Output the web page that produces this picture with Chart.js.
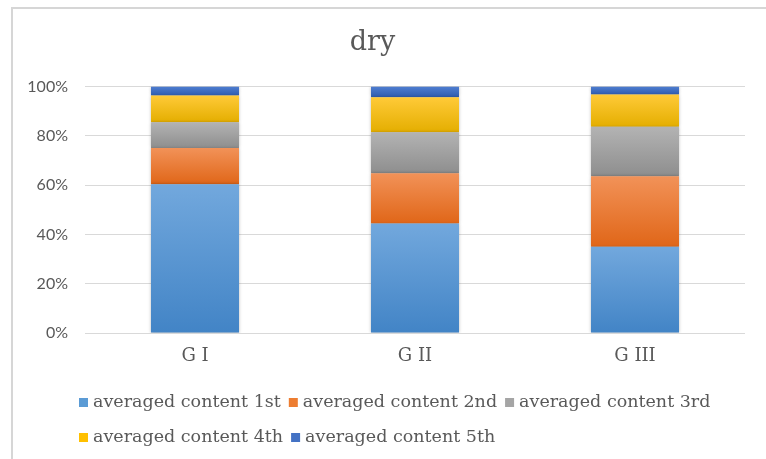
<!DOCTYPE html>
<html>
<head>
<meta charset="utf-8">
<script src="https://cdn.jsdelivr.net/npm/chart.js@4"></script>
<style>
  html, body { margin: 0; padding: 0; background: #fff; }
  #wrap { width: 766px; height: 459px; position: relative; }
</style>
</head>
<body>
<div id="wrap"><canvas id="c" width="766" height="459"></canvas></div>
<script>
// Categories and series (percent share of each group)
const categories = ['G I', 'G II', 'G III'];
const seriesNames = [
  'averaged content 1st',
  'averaged content 2nd',
  'averaged content 3rd',
  'averaged content 4th',
  'averaged content 5th'
];
const content1st = [60.3, 44.4, 35.0];
const content2nd = [14.7, 20.4, 28.6];
const content3rd = [10.5, 16.6, 20.0];
const content4th = [10.8, 14.2, 13.1];
const content5th = [3.7, 4.4, 3.3];
const yTicks = [0, 20, 40, 60, 80, 100];

const seriesValues = [content1st, content2nd, content3rd, content4th, content5th];
// top / bottom gradient stops and legend swatch colour per series
const palette = [
  { top: '#72a8dd', bottom: '#4284c6', solid: '#5b9bd5' },
  { top: '#f29258', bottom: '#e06618', solid: '#ed7d31' },
  { top: '#b3b3b3', bottom: '#8e8e8e', solid: '#a5a5a5' },
  { top: '#ffca38', bottom: '#e4ae00', solid: '#ffc000' },
  { top: '#4f7ed2', bottom: '#2e5cae', solid: '#4472c4' }
];

const serif = '"DejaVu Serif", serif';
const textColor = '#595959';

function segmentGradient(ctx) {
  const chart = ctx.chart;
  const y = chart.scales.y;
  const di = ctx.datasetIndex;
  const pal = palette[di];
  if (!y || ctx.dataIndex === undefined || !chart.chartArea) return pal.solid;
  let base = 0;
  for (let k = 0; k < di; k++) base += seriesValues[k][ctx.dataIndex];
  const topVal = base + seriesValues[di][ctx.dataIndex];
  const y0 = y.getPixelForValue(topVal);
  const y1 = y.getPixelForValue(base);
  if (!isFinite(y0) || !isFinite(y1) || y0 === y1) return pal.solid;
  const g = chart.ctx.createLinearGradient(0, y0, 0, y1);
  g.addColorStop(0, pal.top);
  g.addColorStop(1, pal.bottom);
  return g;
}

const datasets = seriesNames.map((name, i) => ({
  label: name,
  data: seriesValues[i],
  backgroundColor: segmentGradient,
  borderWidth: 0,
  categoryPercentage: 1.0,
  barPercentage: 0.4,
  legendColor: palette[i].solid
}));

// Frame lines along the top and left edge of the chart panel
const framePlugin = {
  id: 'frame',
  beforeDraw(chart) {
    const c = chart.ctx;
    c.save();
    c.fillStyle = '#ffffff';
    c.fillRect(0, 0, chart.width, chart.height);
    c.strokeStyle = '#d6d6d6';
    c.lineWidth = 2;
    c.beginPath();
    c.moveTo(12, chart.height);
    c.lineTo(12, 8);
    c.lineTo(chart.width, 8);
    c.stroke();
    c.restore();
  }
};

// Soft shadow around the bars
const shadowPlugin = {
  id: 'barShadow',
  beforeDatasetsDraw(chart) {
    const c = chart.ctx;
    c.save();
    c.shadowColor = 'rgba(0,0,0,0.28)';
    c.shadowBlur = 3;
    c.shadowOffsetX = 0;
    c.shadowOffsetY = 0;
  },
  afterDatasetsDraw(chart) {
    chart.ctx.restore();
  }
};

// Legend laid out in left-aligned rows below the axis
const legendPlugin = {
  id: 'rowLegend',
  afterDraw(chart) {
    const c = chart.ctx;
    c.save();
    c.font = '17.5px ' + serif;
    c.textBaseline = 'middle';
    c.textAlign = 'left';
    const left = 79, maxRight = 745, box = 9, gap = 5, itemGap = 8;
    const rowY = [402, 437];
    let x = left, row = 0;
    chart.data.datasets.forEach(ds => {
      const w = box + gap + c.measureText(ds.label).width;
      if (x + w > maxRight && x > left) { row++; x = left; }
      const y = rowY[row] !== undefined ? rowY[row] : rowY[0] + row * 35;
      c.fillStyle = ds.legendColor;
      c.fillRect(x, Math.round(y - box / 2), box, box);
      c.fillStyle = textColor;
      c.fillText(ds.label, x + box + gap, y);
      x += w + itemGap;
    });
    c.restore();
  }
};

new Chart(document.getElementById('c'), {
  type: 'bar',
  data: { labels: categories, datasets: datasets },
  plugins: [framePlugin, shadowPlugin, legendPlugin],
  options: {
    responsive: false,
    animation: false,
    devicePixelRatio: 1,
    layout: { padding: { left: 0, right: 21, top: 0, bottom: 0 } },
    plugins: {
      legend: { display: false },
      tooltip: { enabled: false },
      title: {
        display: true,
        text: 'dry',
        color: textColor,
        font: { family: serif, size: 27, weight: 'normal' },
        padding: { top: 27, bottom: 27 }
      }
    },
    scales: {
      x: {
        stacked: true,
        grid: { display: false, drawTicks: false },
        border: { display: false },
        ticks: {
          color: textColor,
          font: { family: serif, size: 18 },
          padding: 13
        },
        afterFit(scale) { scale.height = 126; }
      },
      y: {
        stacked: true,
        min: 0,
        max: 100,
        afterBuildTicks(scale) { scale.ticks = yTicks.map(v => ({ value: v })); },
        grid: { color: '#d9d9d9', lineWidth: 1, drawTicks: false },
        border: { display: false },
        ticks: {
          color: textColor,
          font: { family: 'Lato, sans-serif', size: 16 },
          padding: 17,
          callback: v => v + '%'
        },
        afterFit(scale) { scale.width = 85; }
      }
    }
  }
});
</script>
</body>
</html>
